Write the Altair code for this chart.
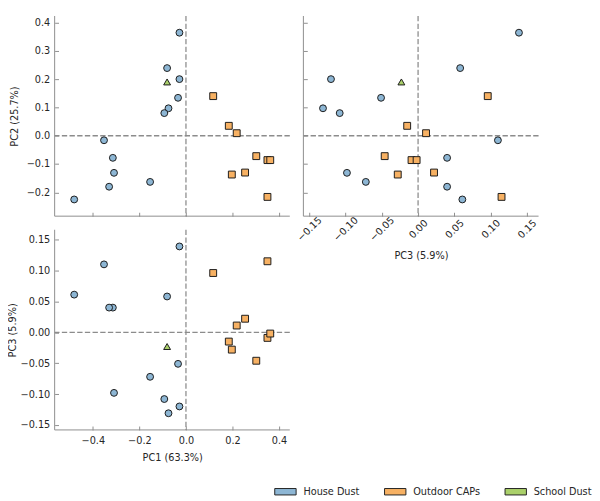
import altair as alt
import pandas as pd

# ---------------- data ----------------
categories = ["House Dust", "Outdoor CAPs", "School Dust"]
colors = ["#8DB6D4", "#F7B163", "#AAD06A"]
shapes = ["circle", "square", "triangle-up"]

house_pc1 = [-0.028, -0.081, -0.028, -0.034, -0.075, -0.093, -0.352, -0.314, -0.309, -0.330, -0.154, -0.480]
house_pc2 = [0.364, 0.239, 0.200, 0.134, 0.097, 0.080, -0.016, -0.078, -0.131, -0.180, -0.163, -0.225]
house_pc3 = [0.139, 0.058, -0.120, -0.051, -0.131, -0.108, 0.110, 0.040, -0.098, 0.040, -0.072, 0.061]

caps_pc1 = [0.117, 0.184, 0.218, 0.302, 0.350, 0.362, 0.197, 0.254, 0.350]
caps_pc2 = [0.140, 0.035, 0.009, -0.072, -0.086, -0.086, -0.137, -0.130, -0.216]
caps_pc3 = [0.096, -0.015, 0.011, -0.046, -0.009, -0.002, -0.028, 0.022, 0.115]

school_pc1 = [-0.081]
school_pc2 = [0.190]
school_pc3 = [-0.023]

pc1_ticks = [-0.4, -0.2, 0.0, 0.2, 0.4]
pc2_ticks = [-0.2, -0.1, 0.0, 0.1, 0.2, 0.3, 0.4]
pc3_ticks = [-0.15, -0.10, -0.05, 0.0, 0.05, 0.10, 0.15]

pc1_domain = [-0.564, 0.446]
pc2_domain = [-0.284, 0.423]
pc3_domain = [-0.158, 0.166]

pc1_title = "PC1 (63.3%)"
pc2_title = "PC2 (25.7%)"
pc3_title = "PC3 (5.9%)"

df = pd.DataFrame({
    "group": [categories[0]] * len(house_pc1) + [categories[1]] * len(caps_pc1) + [categories[2]] * len(school_pc1),
    "PC1": house_pc1 + caps_pc1 + school_pc1,
    "PC2": house_pc2 + caps_pc2 + school_pc2,
    "PC3": house_pc3 + caps_pc3 + school_pc3,
})
zero_df = pd.DataFrame({"z": [0.0]})
one_df = pd.DataFrame({"k": [0]})

# ---------------- styling ----------------
FONT = "DejaVu Sans"
SPINE = "#8c8c8c"
DASH = "#8c8c8c"
TXT = "#262626"
W, H = 242, 206

fill_scale = alt.Scale(domain=categories, range=colors)
legend = alt.Legend(title=None)

def sc(dom):
    return alt.Scale(domain=dom, nice=False, zero=False)

def axis(values, fmt, labels=True, title=None, **kw):
    base = dict(values=values, format=fmt, labels=labels, domain=False, grid=False,
                ticks=True, tickSize=4, offset=-4, tickColor=SPINE, tickWidth=1,
                labelFont=FONT, labelFontSize=10, labelColor=TXT,
                titleFont=FONT, titleFontSize=10, titleFontWeight="normal", titleColor=TXT)
    base.update(kw)
    return alt.Axis(title=title, **base)

def panel(xf, yf, xdom, ydom, xax, yax):
    xs, ys = sc(xdom), sc(ydom)
    vline = alt.Chart(zero_df).mark_rule(color=DASH, strokeWidth=1.3, strokeDash=[5.5, 2.4]).encode(
        x=alt.X("z:Q", scale=xs, axis=xax))
    hline = alt.Chart(zero_df).mark_rule(color=DASH, strokeWidth=1.3, strokeDash=[5.5, 2.4]).encode(
        y=alt.Y("z:Q", scale=ys, axis=yax))
    layers = [vline, hline]
    for cat, shp in zip(categories, shapes):
        layers.append(
            alt.Chart(df).transform_filter(alt.datum.group == cat).mark_point(
                shape=shp, filled=True, stroke="#1a1a1a", strokeWidth=1, opacity=1,
                fillOpacity=1, size=50).encode(
                x=alt.X(f"{xf}:Q", scale=xs, axis=xax),
                y=alt.Y(f"{yf}:Q", scale=ys, axis=yax),
                fill=alt.Fill("group:N", scale=fill_scale, legend=legend),
            )
        )
    left = alt.Chart(one_df).mark_rule(color=SPINE, strokeWidth=1).encode(
        x=alt.value(0), y=alt.value(0), y2=alt.value(H))
    bottom = alt.Chart(one_df).mark_rule(color=SPINE, strokeWidth=1).encode(
        y=alt.value(H), x=alt.value(0), x2=alt.value(W))
    layers += [left, bottom]
    return alt.layer(*layers).properties(width=W, height=H)

# top-left: PC1 vs PC2
tl = panel("PC1", "PC2", pc1_domain, pc2_domain,
           axis(pc1_ticks, ".1f", labels=False),
           axis(pc2_ticks, ".1f", title=pc2_title, labelPadding=5, titleX=-40))
# top-right: PC3 vs PC2
tr = panel("PC3", "PC2", pc3_domain, pc2_domain,
           axis(pc3_ticks, ".2f", title=pc3_title, labelAngle=-45, labelAlign="center",
                labelBaseline="middle", labelPadding=13, titlePadding=8),
           axis(pc2_ticks, ".1f", labels=False))
# bottom-left: PC1 vs PC3
bl = panel("PC1", "PC3", pc1_domain, pc3_domain,
           axis(pc1_ticks, ".1f", title=pc1_title, labelPadding=6, titlePadding=7),
           axis(pc3_ticks, ".2f", title=pc3_title, labelPadding=5, titleX=-42))

chart = alt.concat(tl, tr, bl, columns=2, spacing=14, bounds="flush").properties(
    padding=0
).configure_view(stroke=None).configure_legend(
    orient="none", legendX=226, legendY=478, direction="horizontal",
    symbolType="M-1,-0.3H1V0.3H-1Z", symbolSize=484,
    symbolStrokeColor="#222", symbolStrokeWidth=1,
    labelFont=FONT, labelFontSize=10, labelColor=TXT,
    labelOffset=7, columnPadding=23, padding=0,
)

chart.save("out.html", embed_options={"renderer": "svg", "actions": False})
